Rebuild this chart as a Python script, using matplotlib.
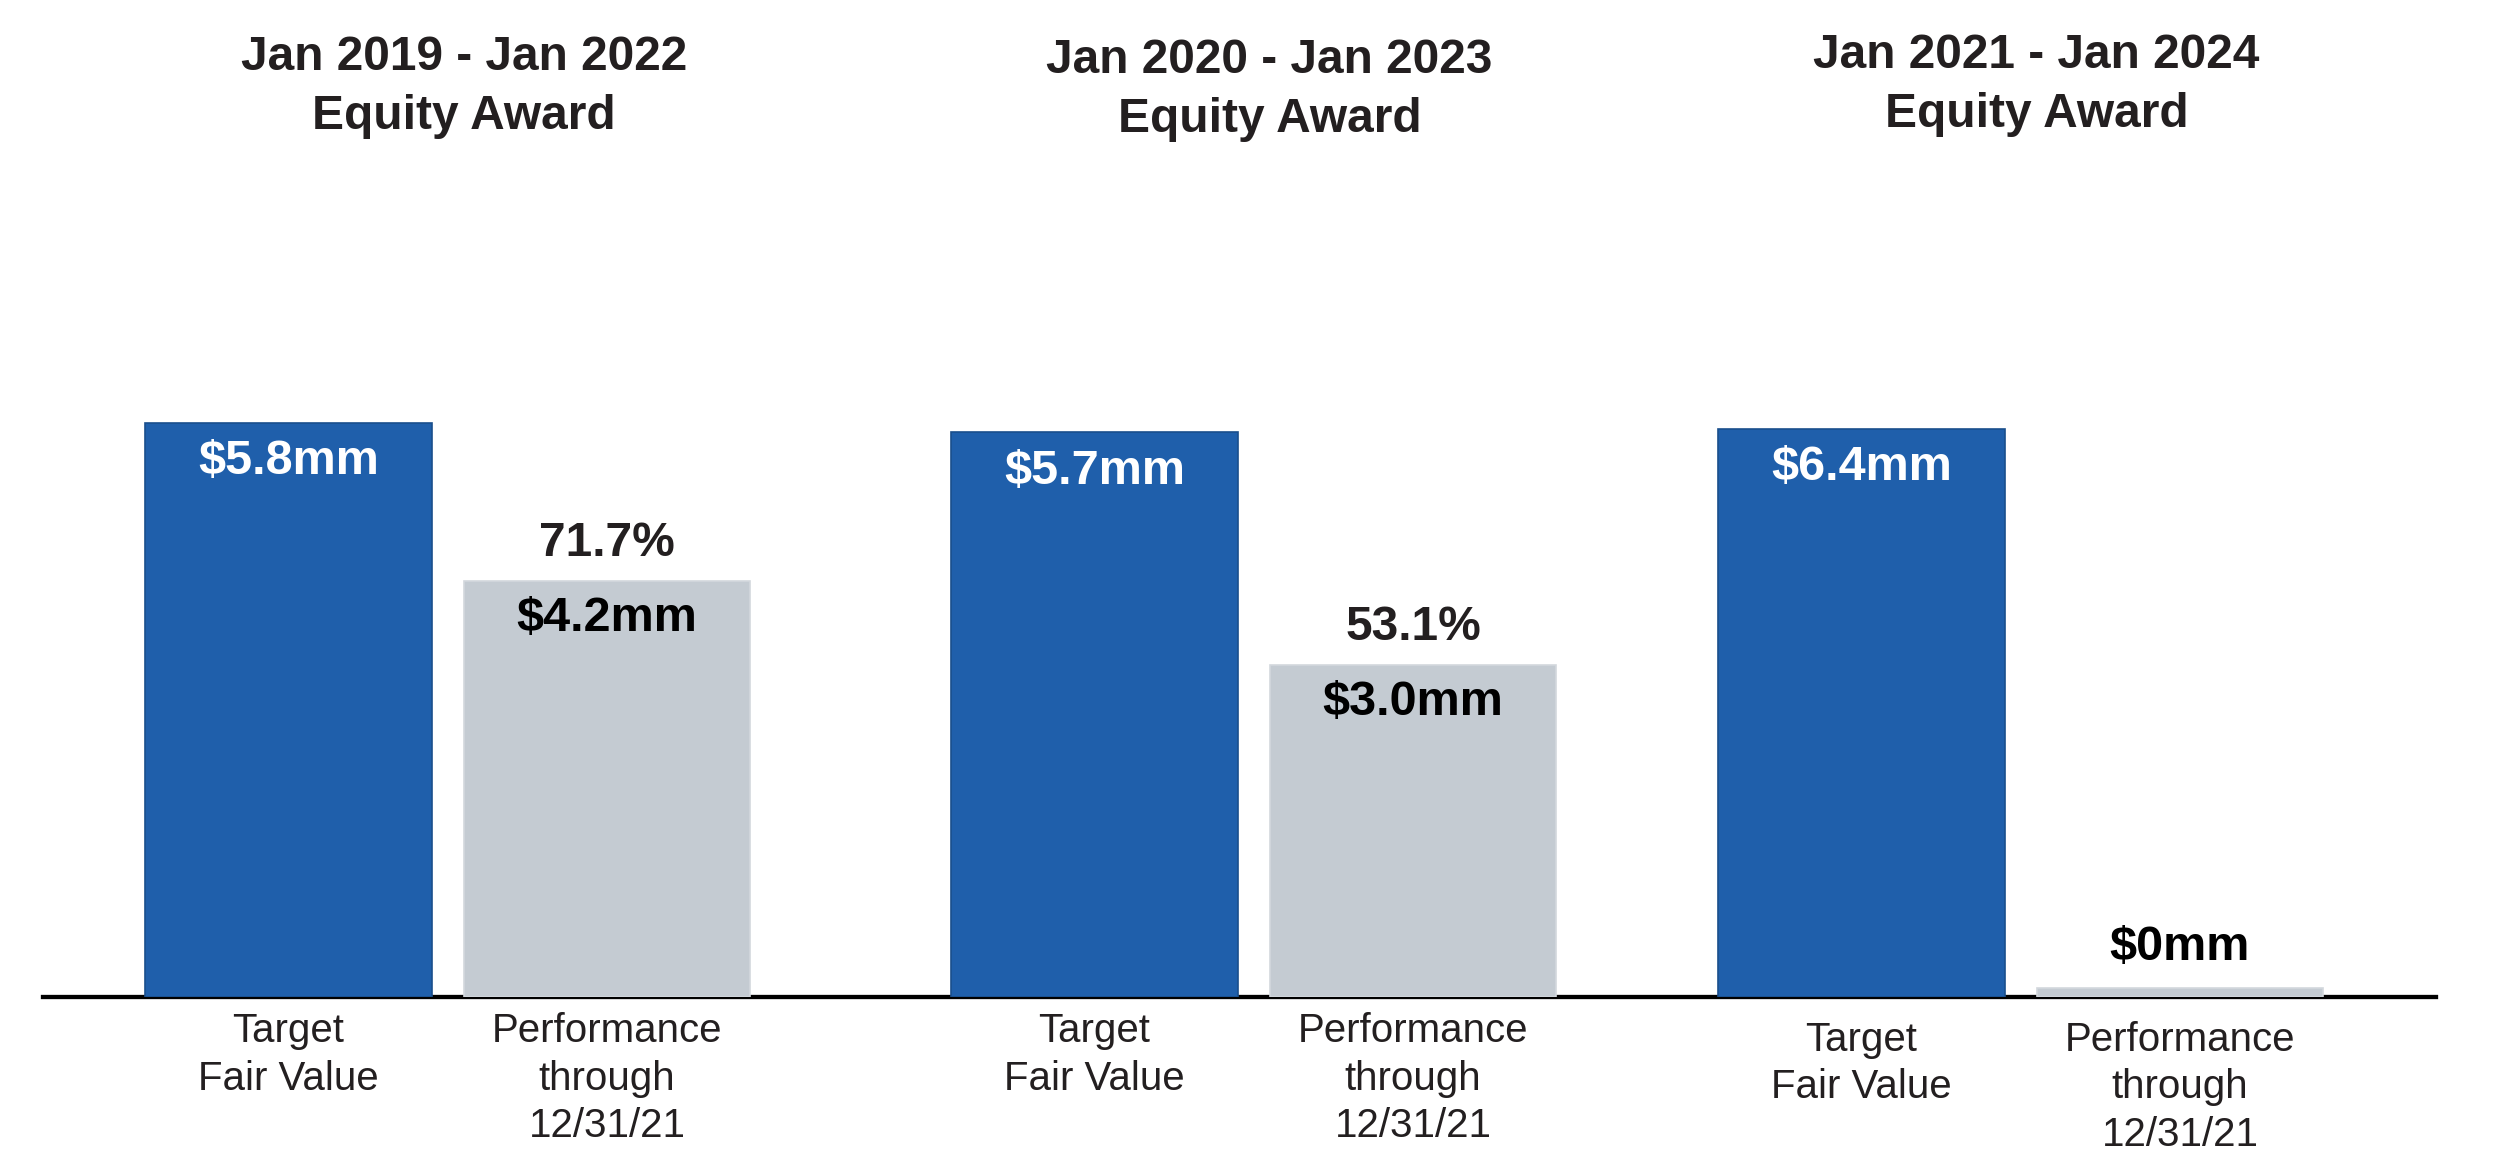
#equity award bar chart
#three award periods, target fair value vs performance to date

import matplotlib.pyplot as plt
from matplotlib import transforms

plt.rcParams['font.family'] = ['Liberation Sans', 'DejaVu Sans']

#THE DATA
periods = ["Jan 2019 - Jan 2022", "Jan 2020 - Jan 2023", "Jan 2021 - Jan 2024"]
categories = ["Target\nFair Value", "Performance\nthrough\n12/31/21"]
target_value = [5.8, 5.7, 6.4]          #$mm
performance_value = [4.2, 3.35, 0.1]    #bar heights as drawn in the picture
target_labels = ["\\$5.8mm", "\\$5.7mm", "\\$6.4mm"]
performance_labels = ["\\$4.2mm", "\\$3.0mm", "\\$0mm"]
payout_pct = ["71.7%", "53.1%", ""]

#layout, in pixels of the 2501x1155 picture
W, H = 2501, 1155
base_y = 997
top_y = 150
line_px = (43, 2436)
panel_px = [(43, 851), (851, 1637), (1637, 2436)]
blue_center_px = [288.5, 1094.5, 1861.5]
step_px = 318.5
px_per_mm = [99.0, 99.1, 88.75]
title_base_px = [70, 73, 68]
tick_pad = [9, 9, 15]

blue = "#1F5FAB"
blue_edge = "#1A4F8C"
gray = "#C4CBD2"
gray_edge = "#D3D8DD"
dark = "#231F20"

fig = plt.figure(figsize=(W / 100, H / 100), dpi=100)

#one shared base line under all three panels
base_ax = fig.add_axes([line_px[0] / W, 1 - base_y / H, (line_px[1] - line_px[0]) / W, 0.01])
base_ax.patch.set_alpha(0)
for s in ["top", "left", "right"]:
    base_ax.spines[s].set_visible(False)
base_ax.spines["bottom"].set_linewidth(3.1)
base_ax.spines["bottom"].set_color("black")
base_ax.spines["bottom"].set_zorder(5)
base_ax.set_xticks([])
base_ax.set_yticks([])

for i in range(len(periods)):
    left, right = panel_px[i]
    ax = fig.add_axes([left / W, 1 - base_y / H, (right - left) / W, (base_y - top_y) / H])
    ax.set_xlim((left - blue_center_px[i]) / step_px, (right - blue_center_px[i]) / step_px)
    ax.set_ylim(0, (base_y - top_y) / px_per_mm[i])
    ax.patch.set_alpha(0)

    ax.bar([0, 1], [target_value[i], performance_value[i]], width=0.9,
           color=[blue, gray], edgecolor=[blue_edge, gray_edge], linewidth=1.2)

    for s in ["top", "left", "right", "bottom"]:
        ax.spines[s].set_visible(False)
    ax.set_yticks([])
    ax.set_xticks([0, 1])
    ax.set_xticklabels(categories, fontsize=29, color=dark)
    for t in ax.get_xticklabels():
        t.set_linespacing(1.32)
    ax.tick_params(axis="x", length=0, pad=tick_pad[i] + 2)

    #value labels
    ax.annotate(target_labels[i], xy=(0, target_value[i]), xytext=(0, -37),
                textcoords="offset points", ha="center", va="baseline",
                color="white", fontsize=35, fontweight="bold")
    if payout_pct[i] != "":
        ax.annotate(performance_labels[i], xy=(1, performance_value[i]), xytext=(0, -36),
                    textcoords="offset points", ha="center", va="baseline",
                    color="black", fontsize=35, fontweight="bold")
        ax.annotate(payout_pct[i], xy=(1, performance_value[i]), xytext=(0, 18),
                    textcoords="offset points", ha="center", va="baseline",
                    color=dark, fontsize=34.5, fontweight="bold")
    else:
        ax.annotate(performance_labels[i], xy=(1, performance_value[i]), xytext=(0, 20),
                    textcoords="offset points", ha="center", va="baseline",
                    color="black", fontsize=35, fontweight="bold")

    #panel title
    trans = transforms.blended_transform_factory(ax.transData, fig.transFigure)
    ax.text(0.55, 1 - title_base_px[i] / H, periods[i], transform=trans,
            ha="center", va="baseline", fontsize=34.5, fontweight="bold", color=dark)
    ax.text(0.55, 1 - (title_base_px[i] + 59) / H, "Equity Award", transform=trans,
            ha="center", va="baseline", fontsize=34.5, fontweight="bold", color=dark)

fig.savefig("out.png", dpi=100)
